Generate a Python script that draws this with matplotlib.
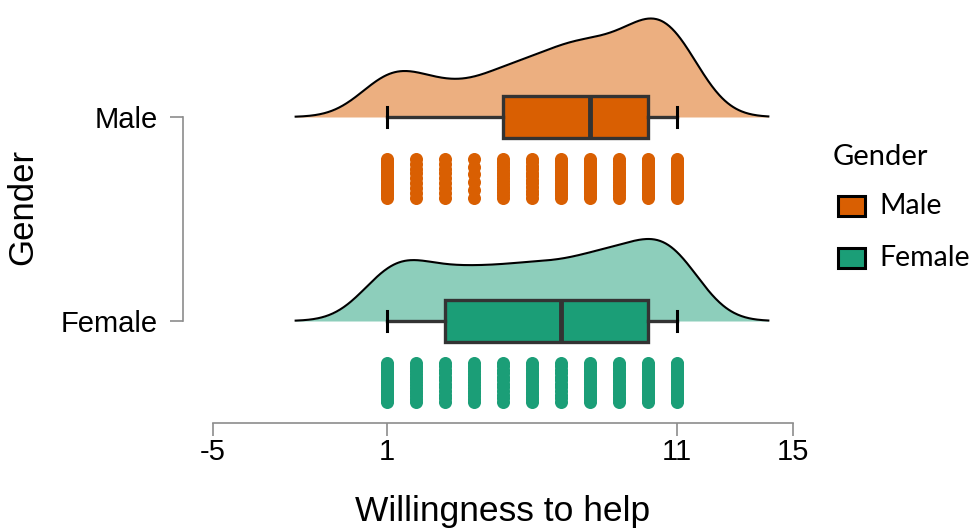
import numpy as np
import matplotlib
matplotlib.use("Agg")
import matplotlib.pyplot as plt
from matplotlib.patches import Rectangle

# willingness to help scores (1-11) and how many people gave each
scores = np.arange(1, 12)
male_counts = [19, 9, 9, 6, 15, 12, 19, 20, 16, 28, 31]
female_counts = [22, 15, 12, 15, 12, 17, 12, 19, 17, 21, 28]

groups = ["Female", "Male"]
box_colors = {"Male": "#D95F02", "Female": "#1B9E77"}
cloud_colors = {"Male": "#ECAF80", "Female": "#8DCEBB"}

xticks = [-5, 1, 11, 15]
bw = 1.05
cloud_scale = 3.8

plt.rcParams["font.family"] = ["Liberation Sans", "DejaVu Sans"]

fig = plt.figure(figsize=(9.73, 5.29), dpi=100)
ax = fig.add_axes([213 / 973, 106 / 529, 580 / 973, 418 / 529])
ax.set_xlim(-5, 15)
ax.set_ylim(-0.5, 1.549)

data = {"Male": np.repeat(scores, male_counts),
        "Female": np.repeat(scores, female_counts)}

for pos, g in enumerate(groups):
    vals = data[g]
    # half violin (kde)
    xs = np.linspace(vals.min() - 3 * bw, vals.max() + 3 * bw, 512)
    dens = np.exp(-0.5 * ((xs[:, None] - vals[None, :]) / bw) ** 2).sum(axis=1)
    dens = dens / (len(vals) * bw * np.sqrt(2 * np.pi))
    ys = pos + dens * cloud_scale
    ax.fill_between(xs, pos, ys, color=cloud_colors[g], lw=0, zorder=1)
    ax.plot(xs, ys, color="black", lw=1.5, zorder=2)

    # box
    ax.boxplot([vals], positions=[pos], orientation="horizontal", widths=0.21,
               patch_artist=True, showfliers=False, capwidths=0.1,
               boxprops=dict(facecolor=box_colors[g], edgecolor="#333333", lw=2.4),
               medianprops=dict(color="#333333", lw=3.5),
               whiskerprops=dict(color="#333333", lw=2.4),
               capprops=dict(color="black", lw=2.2), zorder=3)

    # rain
    counts = male_counts if g == "Male" else female_counts
    for s, n in zip(scores, counts):
        offs = np.linspace(-0.095, 0.095, n)
        ax.scatter(np.full(n, s), pos - 0.3 + offs, s=88, color=box_colors[g],
                   lw=0, zorder=3)

for side in ["top", "right"]:
    ax.spines[side].set_visible(False)
ax.spines["left"].set_position(("outward", 21.6))
ax.spines["left"].set_bounds(0, 1)
ax.spines["bottom"].set_bounds(-5, 15)
for side in ["left", "bottom"]:
    ax.spines[side].set_color("#8c8c8c")
    ax.spines[side].set_linewidth(1.2)

ax.set_xticks(xticks)
ax.set_xticklabels([str(t) for t in xticks])
ax.set_yticks([0, 1])
ax.set_yticklabels(groups)
ax.tick_params(axis="x", length=9, width=1.2, color="#8c8c8c", labelsize=21, pad=2)
ax.tick_params(axis="y", length=9.4, width=1.2, color="#8c8c8c", labelsize=21, pad=9)

fig.text(503 / 973, 1 - 521 / 529, "Willingness to help", fontsize=25.5,
         ha="center", va="baseline")
fig.text(23 / 973, 1 - 207 / 529, "Gender", fontsize=25, rotation=90,
         ha="center", va="center")

# legend
leg_font = ["Lato", "DejaVu Sans"]
fig.text(833 / 973, 1 - 157 / 529, "Gender", fontsize=21, family=leg_font,
         ha="left", va="center")
for i, g in enumerate(["Male", "Female"]):
    yc = 206 + i * 52
    fig.add_artist(Rectangle((838 / 973, 1 - (yc + 10) / 529), 27 / 973, 20 / 529,
                             transform=fig.transFigure, facecolor=box_colors[g],
                             edgecolor="black", lw=2.2))
    fig.text(879 / 973, 1 - yc / 529, g, fontsize=20.5, family=leg_font,
             ha="left", va="center")

fig.savefig("out.png")
